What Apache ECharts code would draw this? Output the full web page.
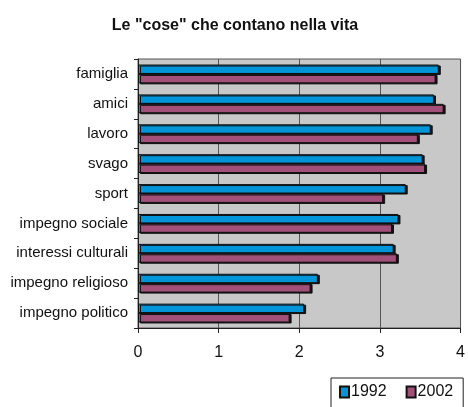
<!DOCTYPE html>
<html>
<head>
<meta charset="utf-8">
<script src="https://cdn.jsdelivr.net/npm/echarts@6/dist/echarts.min.js"></script>
<style>
  html, body { margin: 0; padding: 0; background: #fff; }
  #chart { width: 468px; height: 407px; }
</style>
</head>
<body>
<div id="chart"></div>
<script>
// Categories listed top to bottom
const categories = ['famiglia', 'amici', 'lavoro', 'svago', 'sport', 'impegno sociale',
  'interessi culturali', 'impegno religioso', 'impegno politico'];
const values1992 = [3.73, 3.67, 3.63, 3.53, 3.32, 3.23, 3.17, 2.23, 2.06];
const values2002 = [3.69, 3.79, 3.47, 3.56, 3.04, 3.15, 3.21, 2.14, 1.88];
const xTicks = [0, 1, 2, 3, 4];

const chart = echarts.init(document.getElementById('chart'), null, { renderer: 'canvas' });

const barStyle = (color) => ({
  color: color,
  borderColor: '#111',
  borderWidth: 1,
  shadowColor: '#111',
  shadowOffsetX: 2,
  shadowOffsetY: 1,
  shadowBlur: 0
});

chart.setOption({
  animation: false,
  backgroundColor: '#fff',
  textStyle: { fontFamily: 'Liberation Sans, Arial, sans-serif' },
  title: {
    text: 'Le "cose" che contano nella vita',
    left: 230,
    textAlign: 'center',
    top: 13,
    textStyle: { fontSize: 16, fontWeight: 'bold', color: '#111', fontFamily: 'Liberation Sans, Arial, sans-serif' }
  },
  legend: {
    data: ['1992', '2002'],
    left: 331,
    top: 378,
    padding: [6, 10, 10, 8],
    itemGap: 19,
    itemWidth: 9,
    itemHeight: 11,
    icon: 'rect',
    borderColor: '#222',
    borderWidth: 1,
    borderRadius: 0,
    backgroundColor: '#fff',
    textStyle: { fontSize: 16, color: '#111', padding: [0, 0, 0, -3] }
  },
  grid: {
    left: 138, right: 7, top: 59, bottom: 79,
    show: true,
    backgroundColor: '#c8c8c8',
    borderColor: '#555',
    borderWidth: 1
  },
  xAxis: {
    type: 'value',
    min: xTicks[0],
    max: xTicks[xTicks.length - 1],
    interval: 1,
    axisLine: { show: true, lineStyle: { color: '#222' } },
    axisTick: { show: true, length: 5, lineStyle: { color: '#222' } },
    axisLabel: { fontSize: 16, color: '#111', margin: 17 },
    splitLine: { show: true, lineStyle: { color: '#555', width: 1 } }
  },
  yAxis: {
    type: 'category',
    data: categories,
    inverse: true,
    axisLine: { show: true, lineStyle: { color: '#222' } },
    axisTick: { show: true, length: 4, lineStyle: { color: '#222' } },
    axisLabel: { fontSize: 15, color: '#111', margin: 10 },
    splitLine: { show: false }
  },
  series: [
    {
      name: '1992',
      type: 'bar',
      data: values1992,
      barGap: '0%',
      barCategoryGap: '37%',
      itemStyle: barStyle('#0094d8')
    },
    {
      name: '2002',
      type: 'bar',
      data: values2002,
      itemStyle: barStyle('#a2507a')
    }
  ]
});
</script>
</body>
</html>
